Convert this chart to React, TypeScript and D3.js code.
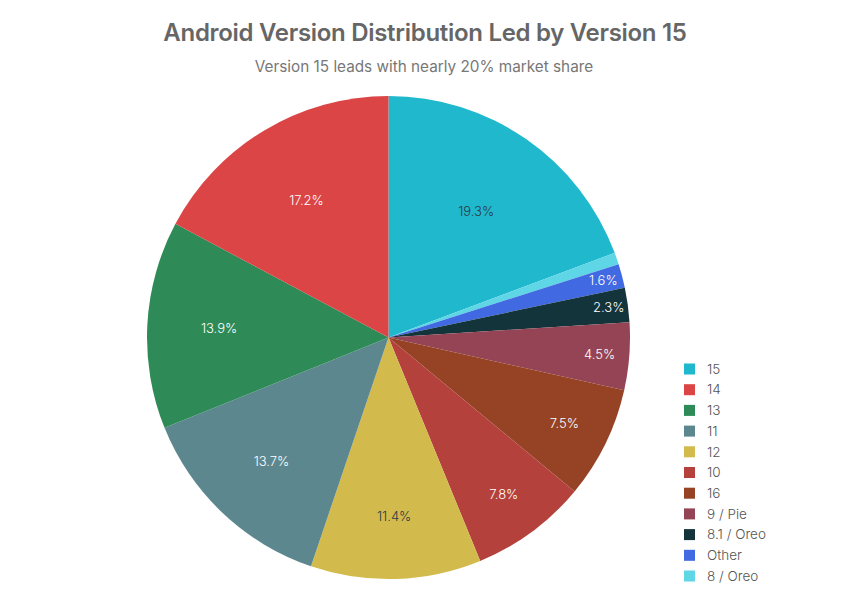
import { useEffect, useRef } from 'react';
import * as d3 from 'd3';

// slices in the order they are drawn, clockwise from 12 o'clock
const sliceLabels = ['15', '8 / Oreo', 'Other', '8.1 / Oreo', '9 / Pie', '16', '10', '12', '11', '13', '14'];
const sliceValues = [19.3, 0.8, 1.6, 2.3, 4.5, 7.5, 7.8, 11.4, 13.7, 13.9, 17.2];
const sliceColors = ['#1FB8CD', '#5FD6E6', '#4169E1', '#13343B', '#944454', '#964325', '#B4413C', '#D2BA4C', '#5D878F', '#2E8B57', '#DB4545'];
const legendOrder = ['15', '14', '13', '11', '12', '10', '16', '9 / Pie', '8.1 / Oreo', 'Other', '8 / Oreo'];
const darkTextSlices = ['15', '12'];

const WIDTH = 850;
const HEIGHT = 607;
const FONT = 'Inter, "Liberation Sans", Arial, sans-serif';

export default function App() {
  const svgRef = useRef<SVGSVGElement | null>(null);

  useEffect(() => {
    if (!svgRef.current) return;
    const svg = d3.select(svgRef.current);
    svg.selectAll('*').remove();

    const cx = 388.5;
    const cy = 337.5;
    const radius = 241.5;

    svg.append('rect').attr('width', WIDTH).attr('height', HEIGHT).attr('fill', '#ffffff');

    svg
      .append('text')
      .attr('x', 425)
      .attr('y', 41)
      .attr('text-anchor', 'middle')
      .attr('font-family', FONT)
      .attr('font-size', 24)
      .attr('font-weight', 600)
      .attr('letter-spacing', -0.3)
      .attr('fill', '#666666')
      .text('Android Version Distribution Led by Version 15');

    svg
      .append('text')
      .attr('x', 424)
      .attr('y', 72)
      .attr('text-anchor', 'middle')
      .attr('font-family', FONT)
      .attr('font-size', 15.3)
      .attr('fill', '#777777')
      .text('Version 15 leads with nearly 20% market share');

    const slices = sliceLabels.map((label, i) => ({ label, value: sliceValues[i], color: sliceColors[i] }));
    const pie = d3
      .pie<{ label: string; value: number; color: string }>()
      .value((d) => d.value)
      .sort(null);
    const arcs = pie(slices);
    const arc = d3.arc<d3.PieArcDatum<{ label: string; value: number; color: string }>>().innerRadius(0).outerRadius(radius);

    const g = svg.append('g').attr('transform', `translate(${cx},${cy})`);

    g.selectAll('path')
      .data(arcs)
      .enter()
      .append('path')
      .attr('d', arc)
      .attr('fill', (d) => d.data.color);

    const total = d3.sum(sliceValues);
    // label radius like plotly's inscribed-circle placement
    g.selectAll('text')
      .data(arcs.filter((d) => d.data.value / total >= 0.01))
      .enter()
      .append('text')
      .attr('transform', (d) => {
        const half = (d.endAngle - d.startAngle) / 2;
        const mid = d.startAngle + half;
        const inscribed = Math.min(1 / (1 + 1 / Math.sin(half)), 0.5);
        const rc = Math.min(1 - inscribed, 0.92) * radius;
        return `translate(${rc * Math.sin(mid)},${-rc * Math.cos(mid)})`;
      })
      .attr('text-anchor', 'middle')
      .attr('dy', '0.35em')
      .attr('font-family', FONT)
      .attr('font-size', 13)
      .attr('font-weight', 300)
      .attr('fill', (d) => (darkTextSlices.includes(d.data.label) ? '#2a3a44' : '#ffffff'))
      .text((d) => `${((d.data.value / total) * 100).toFixed(1)}%`);

    const colorOf = d3.scaleOrdinal<string, string>().domain(sliceLabels).range(sliceColors);
    const legendY = d3.scalePoint<string>().domain(legendOrder).range([369, 576]);

    const legend = svg.append('g');
    const rows = legend
      .selectAll('g')
      .data(legendOrder)
      .enter()
      .append('g')
      .attr('transform', (d) => `translate(684,${legendY(d)})`);

    rows
      .append('rect')
      .attr('x', 0)
      .attr('y', -5.5)
      .attr('width', 11)
      .attr('height', 11)
      .attr('fill', (d) => colorOf(d));

    rows
      .append('text')
      .attr('x', 23)
      .attr('dy', '0.35em')
      .attr('font-family', FONT)
      .attr('font-size', 13.5)
      .attr('font-weight', 300)
      .attr('fill', '#555555')
      .text((d) => d);
  }, []);

  return <svg ref={svgRef} width={WIDTH} height={HEIGHT} viewBox={`0 0 ${WIDTH} ${HEIGHT}`} style={{ display: 'block', margin: -8 }} />;
}
